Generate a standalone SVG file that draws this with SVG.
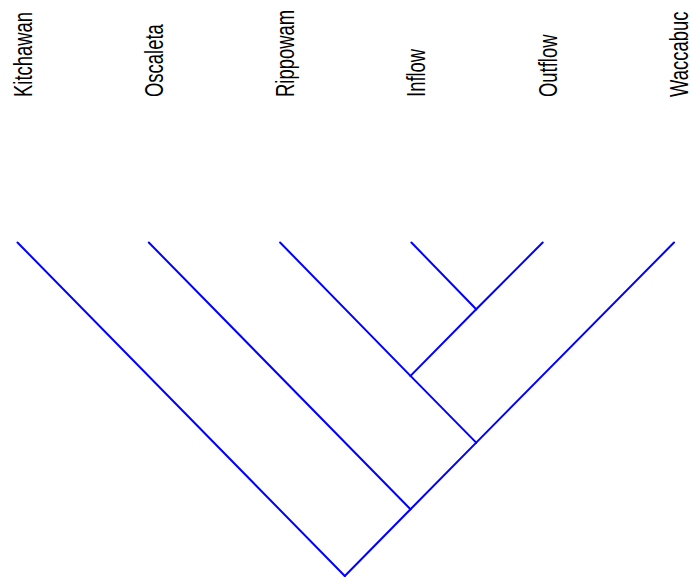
<svg xmlns="http://www.w3.org/2000/svg" width="692" height="580" viewBox="0 0 692 580">
<style>
.lbl{font-family:"Liberation Sans",Arial,sans-serif;font-size:26px;fill:#000}
.edge{stroke:#0000FF;stroke-width:2;fill:none;stroke-linecap:round}
</style>
<rect width="692" height="580" fill="#fff"/>
<g id="edges">
<line class="edge" x1="411.4" y1="242.5" x2="476.2" y2="309.2"/>
<line class="edge" x1="542.7" y1="242.5" x2="476.2" y2="309.2"/>
<line class="edge" x1="476.2" y1="309.2" x2="410.5" y2="375.9"/>
<line class="edge" x1="280.1" y1="242.5" x2="410.5" y2="375.9"/>
<line class="edge" x1="410.5" y1="375.9" x2="476.2" y2="442.6"/>
<line class="edge" x1="674" y1="242.5" x2="476.2" y2="442.6"/>
<line class="edge" x1="476.2" y1="442.6" x2="410.5" y2="509.3"/>
<line class="edge" x1="148.8" y1="242.5" x2="410.5" y2="509.3"/>
<line class="edge" x1="410.5" y1="509.3" x2="344.8" y2="576"/>
<line class="edge" x1="17.5" y1="242.5" x2="344.8" y2="576"/>
</g>
<g id="node-Kitchawan"><text class="lbl" transform="translate(31.5,97) rotate(-90) scale(0.71,1)">Kitchawan</text></g>
<g id="node-Oscaleta"><text class="lbl" transform="translate(162.8,97) rotate(-90) scale(0.71,1)">Oscaleta</text></g>
<g id="node-Rippowam"><text class="lbl" transform="translate(294.1,97) rotate(-90) scale(0.71,1)">Rippowam</text></g>
<g id="node-Inflow"><text class="lbl" transform="translate(425.4,97) rotate(-90) scale(0.71,1)">Inflow</text></g>
<g id="node-Outflow"><text class="lbl" transform="translate(556.7,97) rotate(-90) scale(0.71,1)">Outflow</text></g>
<g id="node-Waccabuc"><text class="lbl" transform="translate(687.5,97) rotate(-90) scale(0.71,1)">Waccabuc</text></g>
</svg>
